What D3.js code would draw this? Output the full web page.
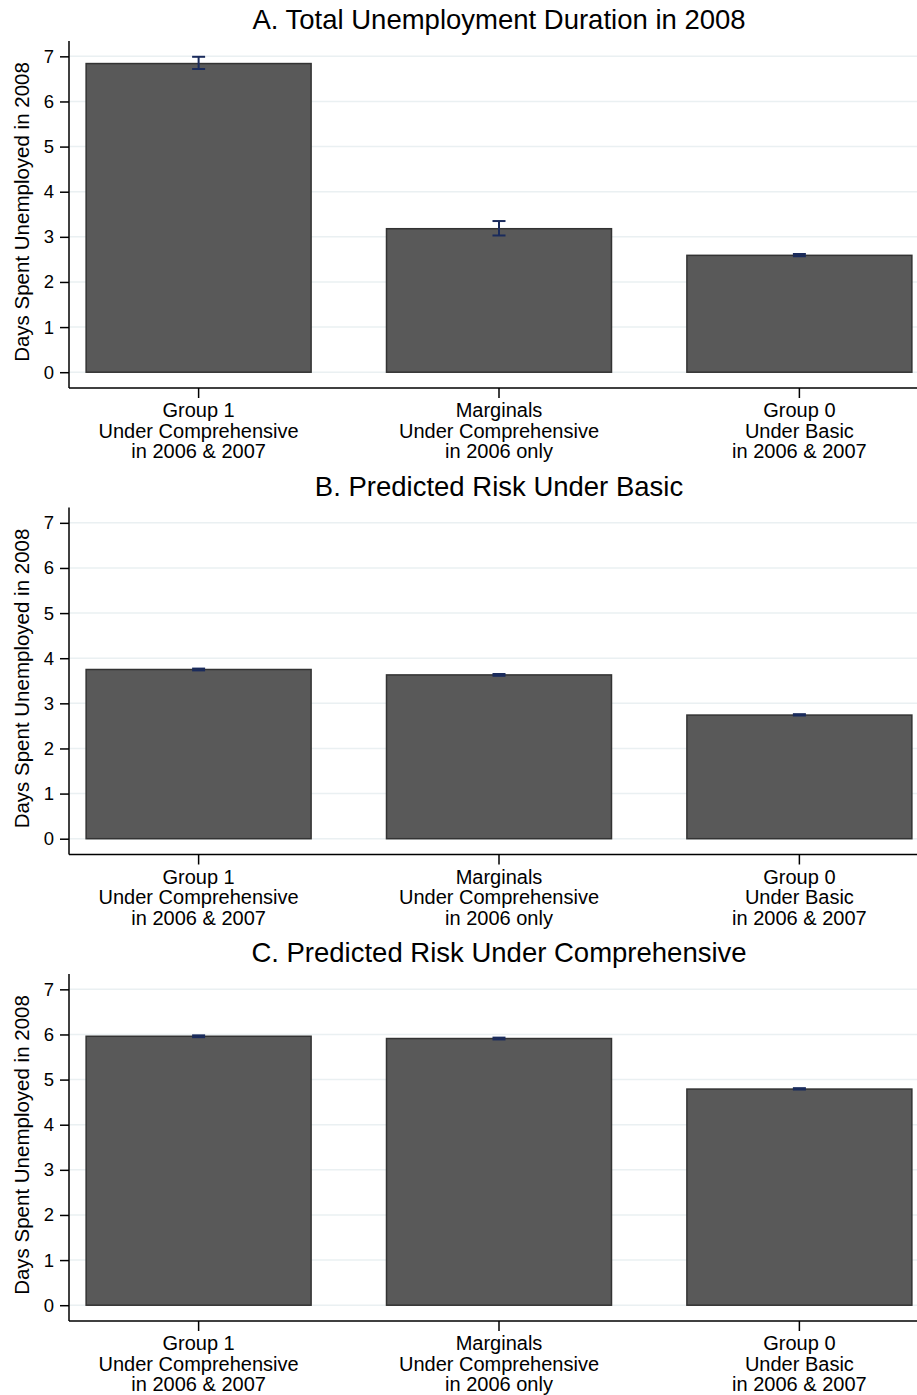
<!DOCTYPE html>
<html>
<head>
<meta charset="utf-8">
<script src="https://cdn.jsdelivr.net/npm/d3@7"></script>
<style>
  body { margin: 0; background: #fff; }
  text { font-family: "Liberation Sans", Arial, sans-serif; fill: #000; }
</style>
</head>
<body>
<svg id="chart"></svg>
<script>
// data
var groups = ["Group 1", "Marginals", "Group 0"];
var groupLine2 = ["Under Comprehensive", "Under Comprehensive", "Under Basic"];
var groupLine3 = ["in 2006 & 2007", "in 2006 only", "in 2006 & 2007"];
var panelTitles = ["A. Total Unemployment Duration in 2008",
                   "B. Predicted Risk Under Basic",
                   "C. Predicted Risk Under Comprehensive"];
var meansA = [6.84, 3.18, 2.59];
var lowA   = [6.72, 3.03, 2.57];
var highA  = [6.99, 3.35, 2.62];
var meansB = [3.75, 3.63, 2.74];
var lowB   = [3.73, 3.61, 2.73];
var highB  = [3.77, 3.65, 2.76];
var meansC = [5.96, 5.91, 4.79];
var lowC   = [5.94, 5.89, 4.78];
var highC  = [5.98, 5.93, 4.81];
var yTicks = [0, 1, 2, 3, 4, 5, 6, 7];
var yLabel = "Days Spent Unemployed in 2008";

var panels = [
  {title: panelTitles[0], mean: meansA, lo: lowA, hi: highA},
  {title: panelTitles[1], mean: meansB, lo: lowB, hi: highB},
  {title: panelTitles[2], mean: meansC, lo: lowC, hi: highC}
];

var W = 917, H = 1395;
var panelH = 466.5;
var svg = d3.select("#chart").attr("width", W).attr("height", H);

var x = d3.scaleBand().domain(groups).range([69, 929]).paddingInner(0.251).paddingOuter(0.057);

panels.forEach(function(p, i) {
  var top = i * panelH;
  var g = svg.append("g").attr("transform", "translate(0," + top + ")");
  var y = d3.scaleLinear().domain([-0.35, 7.34]).range([388, 41]);

  // grid
  g.selectAll("line.grid").data(yTicks).enter().append("line")
    .attr("x1", 70).attr("x2", W)
    .attr("y1", function(d) { return y(d); }).attr("y2", function(d) { return y(d); })
    .attr("stroke", "#eaf0f2").attr("stroke-width", 1.5);

  // bars
  g.selectAll("rect.bar").data(p.mean).enter().append("rect")
    .attr("x", function(d, j) { return x(groups[j]); })
    .attr("width", x.bandwidth())
    .attr("y", function(d) { return y(d); })
    .attr("height", function(d) { return y(0) - y(d); })
    .attr("fill", "#595959").attr("stroke", "#333333").attr("stroke-width", 1.5);

  // error bars
  var eb = g.selectAll("g.err").data(p.mean).enter().append("g")
    .attr("stroke", "#1a2b5c").attr("stroke-width", 2);
  eb.append("line")
    .attr("x1", function(d, j) { return x(groups[j]) + x.bandwidth() / 2; })
    .attr("x2", function(d, j) { return x(groups[j]) + x.bandwidth() / 2; })
    .attr("y1", function(d, j) { return y(p.lo[j]); })
    .attr("y2", function(d, j) { return y(p.hi[j]); });
  [p.lo, p.hi].forEach(function(arr) {
    eb.append("line")
      .attr("x1", function(d, j) { return x(groups[j]) + x.bandwidth() / 2 - 6.5; })
      .attr("x2", function(d, j) { return x(groups[j]) + x.bandwidth() / 2 + 6.5; })
      .attr("y1", function(d, j) { return y(arr[j]); })
      .attr("y2", function(d, j) { return y(arr[j]); });
  });

  // y axis
  var yAxis = d3.axisLeft(y).tickValues(yTicks).tickSize(9).tickPadding(6);
  var ya = g.append("g").attr("transform", "translate(69,0)").call(yAxis);
  ya.select(".domain").attr("d", "M0," + y(7.34) + "V" + y(-0.35)).attr("stroke", "#000").attr("stroke-width", 1.5);
  ya.selectAll(".tick line").attr("stroke", "#000").attr("stroke-width", 1.5);
  ya.selectAll(".tick text").attr("font-size", 18.5).attr("font-family", "Liberation Sans, Arial, sans-serif");

  // x axis
  var xAxis = d3.axisBottom(x).tickSize(10).tickFormat("");
  var xa = g.append("g").attr("transform", "translate(0,388)").call(xAxis);
  xa.select(".domain").attr("d", "M69,0H" + W).attr("stroke", "#000").attr("stroke-width", 1.5);
  xa.selectAll(".tick line").attr("stroke", "#000").attr("stroke-width", 1.5);

  var lab = g.selectAll("text.xl").data(groups).enter().append("text")
    .attr("text-anchor", "middle").attr("font-size", 20)
    .attr("x", function(d) { return x(d) + x.bandwidth() / 2; });
  [groups, groupLine2, groupLine3].forEach(function(arr, k) {
    lab.append("tspan")
      .attr("x", function(d) { return x(d) + x.bandwidth() / 2; })
      .attr("y", 417 + k * 20.5)
      .text(function(d, j) { return arr[j]; });
  });

  // y label
  g.append("text").attr("transform", "translate(29," + 212 + ") rotate(-90)")
    .attr("text-anchor", "middle").attr("font-size", 20.5).text(yLabel);

  // title
  g.append("text").attr("x", 499).attr("y", 29)
    .attr("text-anchor", "middle").attr("font-size", 27.5).text(p.title);
});
</script>
</body>
</html>
